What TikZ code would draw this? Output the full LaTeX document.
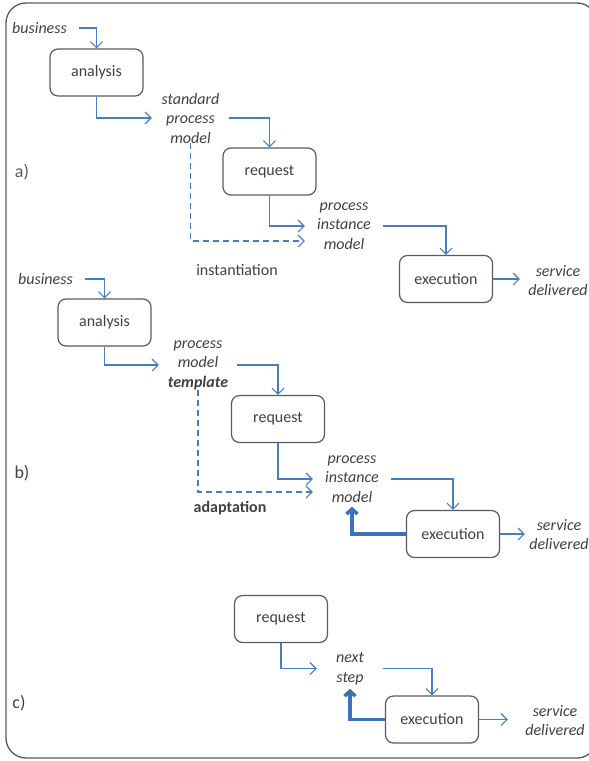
\documentclass[tikz,border=0pt]{standalone}
\usepackage{fontspec}
\setmainfont{Carlito}
\usetikzlibrary{arrows.meta}
\definecolor{ink}{HTML}{404040}
\definecolor{edge}{HTML}{5A5A5A}
\definecolor{flow}{HTML}{4A7EBB}
\definecolor{flowdk}{HTML}{3F70B5}
\tikzset{
  every node/.style={font=\fontsize{16}{19.5}\selectfont, text=ink, inner sep=0pt},
  stepbox/.style={draw=edge, line width=1.2pt, rounded corners=8pt,
    minimum width=93pt, minimum height=47pt},
  lbl/.style={font=\fontsize{16}{19.5}\selectfont\itshape, align=center},
  partlbl/.style={font=\fontsize{18}{21}\selectfont},
  flowline/.style={draw=flow, line width=1.1pt,
    -{Straight Barb[length=6pt,width=12pt]}},
  dashflow/.style={flowline, dash pattern=on 6pt off 4pt},
  backflow/.style={draw=flowdk, line width=3.5pt,
    -{Straight Barb[length=5pt,width=11pt]}},
}
\begin{document}
\begin{tikzpicture}[x=1pt,y=-1pt]
\useasboundingbox (0,0) rectangle (589,761);
% outer frame
\draw[draw=edge, line width=1.3pt, rounded corners=20pt] (6,3) rectangle (597,758);

% ---- a) standard process ----
\node[lbl] (bus1) at (39.5,28) {business};
\node[stepbox] (ana1) at (96.5,72.5) {analysis};
\node[lbl, text width=77pt] (spm1) at (190.5,118) {standard\\process\\model};
\node[stepbox] (req1) at (269.5,171.5) {request};
\node[lbl, text width=78pt] (pim1) at (344,226) {process\\instance\\model};
\node[stepbox] (exe1) at (446,279) {execution};
\node[lbl, text width=76pt] (sd1) at (558,280.5) {service\\delivered};
\node (inst) at (237,270) {instantiation};
\node[partlbl, text=edge] (pa) at (22,172) {a)};

\draw[flowline] ([xshift=12pt]bus1.east) -| (ana1.north);
\draw[flowline] (ana1.south) |- (spm1.west);
\draw[flowline] (spm1.east) -| (req1.north);
\draw[flowline] (req1.south) |- (pim1.west);
\draw[dashflow] (spm1.south) |- ([yshift=-15pt]pim1.west);
\draw[flowline] (pim1.east) -| (exe1.north);
\draw[flowline] (exe1.east) -- (exe1.east -| sd1.west);

% ---- b) template with adaptation ----
\node[lbl] (bus2) at (45.5,279) {business};
\node[stepbox] (ana2) at (104.5,322.5) {analysis};
\node[lbl, text width=78pt] (pmt) at (198,365) {process\\model\\\textbf{template}};
\node[stepbox] (req2) at (278,419) {request};
\node[lbl, text width=78pt] (pim2) at (352,479) {process\\instance\\model};
\node[stepbox] (exe2) at (453,534) {execution};
\node[lbl, text width=68pt] (sd2) at (559,534.5) {service\\delivered};
\node[font=\fontsize{16}{19.5}\selectfont\bfseries] (adapt) at (230,508) {adaptation};
\node[partlbl] (pb) at (22,473) {b)};

\draw[flowline] ([xshift=12pt]bus2.east) -| (ana2.north);
\draw[flowline] (ana2.south) |- (pmt.west);
\draw[flowline] (pmt.east) -| (req2.north);
\draw[flowline] (req2.south) |- (pim2.west);
\draw[dashflow] (pmt.south) |- ([yshift=-13pt]pim2.west);
\draw[flowline] (pim2.east) -| (exe2.north);
\draw[flowline] (exe2.east) -- (exe2.east -| sd2.west);
\draw[backflow] (exe2.west) -| ([yshift=-4pt]pim2.south);

% ---- c) step by step ----
\node[stepbox] (req3) at (281,619) {request};
\node[lbl, text width=66pt] (ns) at (350,668.5) {next\\step};
\node[stepbox] (exe3) at (432,719.5) {execution};
\node[lbl, text width=94pt] (sd3) at (555,720.5) {service\\delivered};
\node[partlbl] (pc) at (19,703) {c)};

\draw[flowline] (req3.south) |- (ns.west);
\draw[flowline] (ns.east) -| (exe3.north);
\draw[flowline] (exe3.east) -- (exe3.east -| sd3.west);
\draw[backflow] (exe3.west) -| ([yshift=-4pt]ns.south);
\end{tikzpicture}
\end{document}
